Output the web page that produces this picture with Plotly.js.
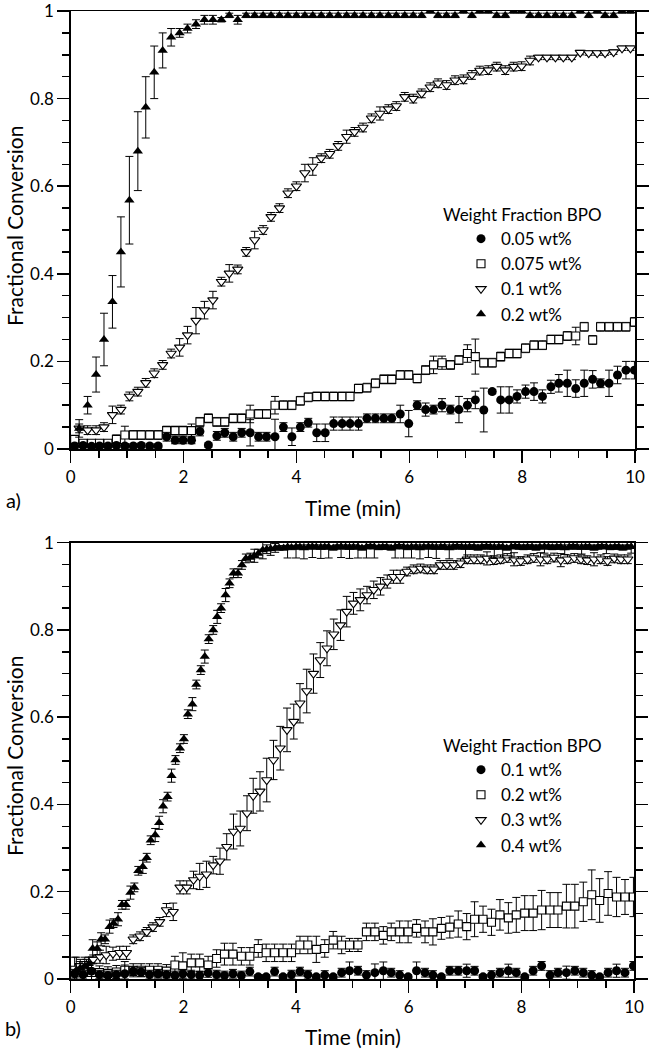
<!DOCTYPE html>
<html><head><meta charset="utf-8">
<script src="https://cdn.plot.ly/plotly-3.0.1.min.js"></script>
<style>html,body{margin:0;padding:0;background:#fff}</style>
</head><body><div id="chart" style="width:653px;height:1050px"></div>
<script>
// ---------- Panel a ----------
const timeA1 = [0.07,0.22,0.37,0.51,0.66,0.81,0.96,1.11,1.25,1.40,
1.55,1.70,1.85,1.99,2.14,2.29,2.44,2.59,2.73,2.88,
3.03,3.18,3.33,3.47,3.62,3.77,3.92,4.07,4.21,4.36,
4.51,4.66,4.81,4.95,5.10,5.25,5.40,5.55,5.69,5.84,
5.99,6.14,6.29,6.43,6.58,6.73,6.88,7.03,7.17,7.32,
7.47,7.62,7.77,7.91,8.06,8.21,8.36,8.51,8.65,8.80,
8.95,9.10,9.25,9.39,9.54,9.69,9.84,9.99];
const timeA2 = [0.15,0.30,0.45,0.59,0.74,0.89,1.04,1.19,1.33,1.48,
1.63,1.78,1.93,2.07,2.22,2.37,2.52,2.67,2.81,2.96,
3.11,3.26,3.41,3.55,3.70,3.85,4.00,4.15,4.29,4.44,
4.59,4.74,4.89,5.03,5.18,5.33,5.48,5.63,5.77,5.92,
6.07,6.22,6.37,6.51,6.66,6.81,6.96,7.11,7.25,7.40,
7.55,7.70,7.85,7.99,8.14,8.29,8.44,8.59,8.73,8.88,
9.03,9.18,9.33,9.47,9.62,9.77,9.92];

const convA_005 = [0.007,0.008,0.006,0.007,0.007,0.008,0.007,0.007,0.008,0.007,
0.007,0.028,0.02,0.02,0.02,0.04,0.009,0.03,0.037,0.028,
0.037,0.037,0.028,0.028,0.028,0.05,0.028,0.05,0.06,0.037,
0.037,0.058,0.058,0.058,0.058,0.07,0.07,0.07,0.07,0.08,
0.058,0.10,0.09,0.09,0.10,0.09,0.09,0.10,0.112,0.089,
0.131,0.112,0.112,0.12,0.131,0.131,0.12,0.142,0.15,0.15,
0.138,0.15,0.159,0.15,0.15,0.169,0.18,0.18];
const errA_005 = [0.005,0.005,0.005,0.005,0.005,0.005,0.005,0.005,0.005,0.005,
0.005,0.01,0.008,0.008,0.008,0.01,0.005,0.01,0.01,0.01,
0.01,0.03,0.01,0.01,0.04,0.01,0.02,0.01,0.01,0.02,
0.02,0.015,0.015,0.015,0.015,0.01,0.01,0.01,0.01,0.02,
0.03,0.01,0.015,0.01,0.015,0.01,0.03,0.015,0.02,0.05,
0.005,0.03,0.03,0.015,0.015,0.02,0.015,0.015,0.02,0.03,
0.02,0.03,0.02,0.01,0.03,0.02,0.02,0.02];

const convA_0075 = [0.022,0.013,0.013,0.013,0.013,0.022,0.032,0.032,0.032,0.032,
0.032,0.042,0.042,0.042,0.042,0.062,0.07,0.062,0.062,0.07,
0.07,0.08,0.08,0.08,0.10,0.10,0.10,0.11,0.118,0.12,
0.12,0.12,0.12,0.12,0.138,0.14,0.15,0.159,0.159,0.169,
0.169,0.161,0.18,0.192,0.197,0.192,0.203,0.218,0.211,0.197,
0.197,0.211,0.218,0.218,0.23,0.237,0.237,0.25,0.25,0.258,
0.258,0.279,0.249,0.279,0.279,0.279,0.279,0.29];
const errA_0075 = [0.005,0.005,0.005,0.005,0.005,0.01,0.02,0.01,0.01,0.01,
0.01,0.01,0.01,0.01,0.015,0.01,0.01,0.01,0.01,0.01,
0.01,0.02,0.01,0.01,0.02,0.01,0.01,0.01,0.01,0.01,
0.01,0.01,0.01,0.01,0.01,0.01,0.01,0.01,0.01,0.01,
0.01,0.01,0.01,0.02,0.015,0.01,0.01,0.02,0.04,0.01,
0.01,0.01,0.01,0.01,0.01,0.01,0.01,0.01,0.01,0.01,
0.02,0.01,0.01,0.01,0.01,0.01,0.01,0.01];

const convA_01 = [0.047,0.043,0.043,0.05,0.078,0.09,0.12,0.131,0.151,0.173,
0.192,0.218,0.232,0.26,0.293,0.317,0.34,0.382,0.401,0.41,
0.45,0.477,0.50,0.53,0.55,0.584,0.60,0.63,0.645,0.664,
0.674,0.692,0.713,0.724,0.734,0.755,0.766,0.776,0.783,0.804,
0.80,0.812,0.826,0.835,0.831,0.842,0.844,0.854,0.864,0.865,
0.873,0.865,0.873,0.874,0.887,0.894,0.894,0.894,0.894,0.894,
0.905,0.904,0.904,0.904,0.906,0.915,0.915];
const errA_01 = [0.01,0.01,0.01,0.01,0.02,0.01,0.01,0.01,0.01,0.01,
0.01,0.01,0.02,0.02,0.03,0.02,0.02,0.01,0.02,0.01,
0.01,0.02,0.01,0.01,0.01,0.01,0.01,0.02,0.02,0.01,
0.01,0.01,0.015,0.01,0.01,0.01,0.015,0.01,0.01,0.01,
0.01,0.01,0.01,0.01,0.01,0.01,0.01,0.01,0.01,0.01,
0.01,0.01,0.01,0.01,0.01,0.005,0.005,0.005,0.005,0.005,
0.005,0.005,0.005,0.005,0.005,0.005,0.005];

const convA_02 = [0.047,0.10,0.17,0.25,0.336,0.45,0.568,0.68,0.78,0.86,
0.91,0.94,0.95,0.96,0.97,0.98,0.98,0.98,0.99,0.98,
0.99,0.99,0.99,0.99,0.99,0.99,0.99,0.99,0.99,0.99,
0.99,0.99,0.99,0.99,0.99,0.99,0.99,0.99,0.99,0.99,
0.99,0.99,1.0,0.99,0.99,0.99,1.0,0.99,1.0,1.0,
0.99,0.99,1.0,1.0,0.99,0.99,0.99,0.99,0.99,0.99,
1.0,0.99,1.0,0.99,0.99,1.0,1.0];
const errA_02 = [0.02,0.02,0.04,0.06,0.06,0.08,0.10,0.09,0.07,0.06,
0.04,0.02,0.01,0.01,0.01,0.01,0.01,0.005,0.005,0.01,
0.005,0.005,0.005,0.005,0.005,0.005,0.005,0.005,0.005,0.005,
0.005,0.005,0.005,0.005,0.005,0.005,0.005,0.005,0.005,0.005,
0.005,0.005,0.005,0.005,0.005,0.005,0.005,0.005,0.005,0.005,
0.005,0.005,0.005,0.005,0.005,0.005,0.005,0.005,0.005,0.005,
0.005,0.005,0.005,0.005,0.005,0.005,0.005];

// ---------- Panel b ----------
const timeB1 = [0.07,0.22,0.37,0.51,0.66,0.81,0.96,1.11,1.25,1.40,
1.55,1.70,1.85,1.99,2.14,2.29,2.44,2.59,2.73,2.88,
3.03,3.18,3.33,3.47,3.62,3.77,3.92,4.07,4.21,4.36,
4.51,4.66,4.81,4.95,5.10,5.25,5.40,5.55,5.69,5.84,
5.99,6.14,6.29,6.43,6.58,6.73,6.88,7.03,7.17,7.32,
7.47,7.62,7.77,7.91,8.06,8.21,8.36,8.51,8.65,8.80,
8.95,9.10,9.25,9.39,9.54,9.69,9.84,9.99];
const timeB3 = [0.16,0.28,0.40,0.52,0.63,0.75,0.87,0.99,1.11,1.23,
1.35,1.46,1.58,1.70,1.82,1.94,2.06,2.18,2.29,2.41,
2.53,2.65,2.77,2.89,3.01,3.13,3.24,3.36,3.48,3.60,
3.72,3.84,3.96,4.07,4.19,4.31,4.43,4.55,4.67,4.79,
4.90,5.02,5.14,5.26,5.38,5.50,5.62,5.73,5.85,5.97,
6.09,6.21,6.33,6.45,6.56,6.68,6.80,6.92,7.04,7.16,
7.28,7.39,7.51,7.63,7.75,7.87,7.99,8.11,8.22,8.34,
8.46,8.58,8.70,8.82,8.94,9.06,9.17,9.29,9.41,9.53,
9.65,9.77,9.89];
const timeB4 = [0.10,0.17,0.25,0.32,0.39,0.47,0.54,0.61,0.69,0.76,
0.84,0.91,0.98,1.06,1.13,1.20,1.28,1.35,1.42,1.50,
1.57,1.64,1.72,1.79,1.86,1.94,2.01,2.08,2.16,2.23,
2.31,2.38,2.45,2.53,2.60,2.67,2.75,2.82,2.89,2.97,
3.04,3.11,3.19,3.26,3.33,3.41,3.48,3.55,3.63,3.70,
3.78,3.85,3.92,4.00,4.07,4.14,4.22,4.29,4.36,4.44,
4.51,4.58,4.66,4.73,4.80,4.88,4.95,5.02,5.10,5.17,
5.25,5.32,5.39,5.47,5.54,5.61,5.69,5.76,5.83,5.91,
5.98,6.05,6.13,6.20,6.27,6.35,6.42,6.49,6.57,6.64,
6.72,6.79,6.86,6.94,7.01,7.08,7.16,7.23,7.30,7.38,
7.45,7.52,7.60,7.67,7.74,7.82,7.89,7.96,8.04,8.11,
8.19,8.26,8.33,8.41,8.48,8.55,8.63,8.70,8.77,8.85,
8.92,8.99,9.07,9.14,9.21,9.29,9.36,9.43,9.51,9.58,
9.66,9.73,9.80,9.88,9.95];

const convB_01 = [0.012,0.01,0.018,0.01,0.008,0.01,0.012,0.018,0.016,0.01,
0.012,0.01,0.008,0.012,0.01,0.008,0.014,0.01,0.008,0.012,
0.008,0.017,0.005,0.005,0.017,0.005,0.01,0.017,0.01,0.005,
0.009,0.005,0.0145,0.019,0.019,0.009,0.0145,0.019,0.0145,0.009,
0.005,0.019,0.0145,0.009,0.005,0.019,0.019,0.019,0.019,0.005,
0.009,0.0145,0.019,0.0145,0.005,0.019,0.03,0.009,0.0145,0.0145,
0.019,0.0145,0.009,0.005,0.0145,0.019,0.0145,0.03];
const errB_01 = [0.01,0.015,0.02,0.01,0.01,0.01,0.02,0.01,0.01,0.01,
0.01,0.01,0.01,0.01,0.01,0.01,0.01,0.01,0.01,0.01,
0.01,0.01,0.005,0.005,0.01,0.005,0.01,0.01,0.01,0.005,
0.01,0.005,0.01,0.02,0.01,0.01,0.02,0.02,0.01,0.01,
0.005,0.02,0.01,0.01,0.005,0.01,0.01,0.015,0.01,0.005,
0.01,0.01,0.015,0.01,0.005,0.01,0.01,0.01,0.01,0.015,
0.01,0.01,0.01,0.005,0.01,0.015,0.01,0.01];

const convB_02 = [0.02,0.02,0.015,0.015,0.013,0.016,0.02,0.02,0.02,0.02,
0.02,0.018,0.032,0.03,0.037,0.037,0.032,0.047,0.057,0.057,
0.052,0.052,0.07,0.06,0.06,0.06,0.06,0.078,0.078,0.068,
0.07,0.089,0.078,0.078,0.078,0.108,0.108,0.10,0.108,0.108,
0.108,0.116,0.108,0.108,0.116,0.119,0.126,0.12,0.137,0.137,
0.13,0.147,0.14,0.147,0.151,0.151,0.158,0.158,0.158,0.167,
0.167,0.177,0.193,0.18,0.196,0.188,0.188,0.188];
const errB_02 = [0.03,0.02,0.02,0.015,0.015,0.015,0.02,0.015,0.015,0.015,
0.015,0.015,0.02,0.03,0.02,0.02,0.02,0.02,0.025,0.025,
0.02,0.02,0.02,0.02,0.02,0.02,0.02,0.02,0.02,0.03,
0.02,0.02,0.02,0.015,0.015,0.02,0.02,0.02,0.02,0.025,
0.025,0.02,0.025,0.03,0.025,0.025,0.03,0.03,0.04,0.03,
0.03,0.035,0.035,0.04,0.04,0.04,0.045,0.04,0.04,0.05,
0.05,0.045,0.057,0.05,0.05,0.045,0.04,0.045];

const convB_03 = [0.03,0.035,0.045,0.051,0.055,0.058,0.06,0.06,0.091,0.098,
0.108,0.119,0.131,0.158,0.154,0.21,0.21,0.227,0.235,0.24,
0.261,0.27,0.303,0.338,0.345,0.38,0.42,0.43,0.456,0.502,
0.529,0.571,0.59,0.632,0.66,0.70,0.731,0.758,0.79,0.811,
0.842,0.861,0.869,0.88,0.892,0.90,0.911,0.922,0.922,0.934,
0.939,0.941,0.939,0.939,0.949,0.949,0.949,0.953,0.962,0.962,
0.962,0.964,0.96,0.962,0.965,0.962,0.958,0.962,0.965,0.962,
0.962,0.966,0.96,0.962,0.965,0.962,0.96,0.962,0.962,0.958,
0.964,0.962,0.962];
const errB_03 = [0.01,0.01,0.01,0.015,0.02,0.015,0.015,0.015,0.01,0.01,
0.01,0.01,0.01,0.015,0.02,0.015,0.015,0.02,0.03,0.03,
0.02,0.03,0.03,0.04,0.04,0.04,0.04,0.045,0.05,0.045,
0.05,0.05,0.04,0.045,0.05,0.045,0.04,0.04,0.035,0.035,
0.035,0.025,0.025,0.02,0.02,0.02,0.015,0.015,0.015,0.01,
0.01,0.01,0.01,0.01,0.01,0.01,0.01,0.01,0.01,0.01,
0.01,0.015,0.01,0.01,0.01,0.015,0.01,0.01,0.01,0.015,
0.01,0.01,0.015,0.01,0.01,0.01,0.01,0.015,0.01,0.01,
0.01,0.01,0.01];

const convB_04 = [0.02,0.025,0.03,0.035,0.07,0.07,0.091,0.091,0.12,0.128,
0.137,0.17,0.17,0.198,0.21,0.248,0.257,0.278,0.318,0.33,
0.358,0.396,0.418,0.466,0.502,0.529,0.55,0.607,0.63,0.675,
0.708,0.739,0.779,0.80,0.83,0.85,0.88,0.907,0.93,0.93,
0.949,0.964,0.966,0.97,0.975,0.983,0.985,0.986,0.988,0.988,
0.988,0.990,0.989,0.990,0.990,0.988,0.990,0.991,0.990,0.989,
0.990,0.990,0.988,0.990,0.991,0.990,0.989,0.990,0.990,0.988,
0.990,0.991,0.990,0.989,0.990,0.990,0.988,0.990,0.991,0.990,
0.989,0.990,0.990,0.988,0.990,0.991,0.990,0.989,0.990,0.990,
0.988,0.990,0.991,0.990,0.989,0.990,0.990,0.988,0.990,0.991,
0.990,0.989,0.990,0.990,0.988,0.990,0.991,0.990,0.989,0.990,
0.990,0.988,0.990,0.991,0.990,0.989,0.990,0.990,0.988,0.990,
0.991,0.990,0.989,0.990,0.990,0.988,0.990,0.991,0.990,0.989,
0.990,0.990,0.988,0.990,0.991];
const errB_04 = [0.03,0.02,0.02,0.015,0.02,0.015,0.015,0.01,0.015,0.01,
0.015,0.01,0.01,0.015,0.01,0.01,0.015,0.01,0.01,0.015,
0.015,0.015,0.01,0.015,0.01,0.01,0.01,0.01,0.015,0.01,
0.01,0.015,0.01,0.01,0.015,0.01,0.015,0.01,0.01,0.01,
0.01,0.01,0.01,0.015,0.01,0.02,0.01,0.015,0.01,0.005,
0.005,0.025,0.005,0.025,0.005,0.025,0.005,0.025,0.005,0.025,
0.005,0.025,0.005,0.005,0.025,0.005,0.025,0.005,0.025,0.005,
0.025,0.005,0.025,0.005,0.005,0.005,0.005,0.025,0.005,0.025,
0.005,0.025,0.005,0.025,0.005,0.025,0.005,0.025,0.005,0.005,
0.025,0.005,0.005,0.005,0.025,0.005,0.005,0.005,0.005,0.005,
0.005,0.025,0.005,0.025,0.005,0.025,0.005,0.005,0.005,0.005,
0.005,0.005,0.005,0.015,0.005,0.005,0.005,0.005,0.015,0.005,
0.005,0.005,0.015,0.005,0.005,0.005,0.005,0.005,0.015,0.005,
0.005,0.005,0.005,0.005,0.015];

const legendA = ['0.05 wt%','0.075 wt%','0.1 wt%','0.2 wt%'];
const legendB = ['0.1 wt%','0.2 wt%','0.3 wt%','0.4 wt%'];
const legendTitle = 'Weight Fraction BPO';
const yTickVals = [0, 0.2, 0.4, 0.6, 0.8, 1];
const yTickText = ['0', '0.2', '0.4', '0.6', '0.8', '1'];
const xTickVals = [0, 2, 4, 6, 8, 10];
const xTickText = ['0', '2', '4', '6', '8', '10'];

// ---------- Styling ----------
const FONT = 'Lato, "Open Sans", "DejaVu Sans", sans-serif';
const BLACK = '#000';
function errStyle(arr){ return {type:'data', array:arr, visible:true, color:BLACK, thickness:1, width:4}; }
const openSq = {symbol:'square', size:8, color:'#fff', line:{color:BLACK, width:1.1}};
const openTri = {symbol:'triangle-down', size:9, color:'#fff', line:{color:BLACK, width:1.1}};
const fillCirc = {symbol:'circle', size:9, color:BLACK, line:{width:0}};
const fillTri = {symbol:'triangle-up', size:9, color:BLACK, line:{width:0}};

function tr(x, y, err, marker, name, rank, xa, ya, leg){
  return {type:'scatter', mode:'markers', x:x, y:y, error_y:errStyle(err),
          marker:marker, name:name, legendrank:rank, xaxis:xa, yaxis:ya, legend:leg};
}

const data = [
  tr(timeA1, convA_0075, errA_0075, openSq, legendA[1], 2, 'x', 'y', 'legend'),
  tr(timeA2, convA_01, errA_01, openTri, legendA[2], 3, 'x', 'y', 'legend'),
  tr(timeA1, convA_005, errA_005, fillCirc, legendA[0], 1, 'x', 'y', 'legend'),
  tr(timeA2, convA_02, errA_02, fillTri, legendA[3], 4, 'x', 'y', 'legend'),
  tr(timeB1, convB_02, errB_02, openSq, legendB[1], 2, 'x2', 'y2', 'legend2'),
  tr(timeB3, convB_03, errB_03, openTri, legendB[2], 3, 'x2', 'y2', 'legend2'),
  tr(timeB1, convB_01, errB_01, fillCirc, legendB[0], 1, 'x2', 'y2', 'legend2'),
  tr(timeB4, convB_04, errB_04, fillTri, legendB[3], 4, 'x2', 'y2', 'legend2')
];

const W = 653, H = 1050;
const px = v => v / W;
const py = v => 1 - v / H;

function xAx(anchor, dom){
  return {domain:dom, anchor:anchor, range:[0,10], tickmode:'array', tickvals:xTickVals, ticktext:xTickText,
    ticks:'outside', ticklen:12, tickwidth:1.5, tickcolor:BLACK,
    showline:true, linewidth:1.5, linecolor:BLACK, mirror:true,
    showgrid:false, zeroline:false, ticklabeloverflow:'allow',
    minor:{tickmode:'linear', tick0:0, dtick:0.5, ticks:'outside', ticklen:7, tickwidth:1.5, tickcolor:BLACK, showgrid:false},
    tickfont:{family:FONT, size:17, color:BLACK}};
}
function yAx(anchor, dom){
  return {domain:dom, anchor:anchor, range:[0,1], tickmode:'array', tickvals:yTickVals, ticktext:yTickText,
    ticks:'outside', ticklen:12, tickwidth:1.5, tickcolor:BLACK,
    showline:true, linewidth:1.5, linecolor:BLACK, mirror:'ticks',
    showgrid:false, zeroline:false, ticklabeloverflow:'allow',
    minor:{tickmode:'linear', tick0:0, dtick:0.05, ticks:'outside', ticklen:7, tickwidth:1.5, tickcolor:BLACK, showgrid:false},
    tickfont:{family:FONT, size:17, color:BLACK}};
}
function leg(yTop){
  return {x:px(441), y:py(yTop), xanchor:'left', yanchor:'top', bgcolor:'rgba(0,0,0,0)',
    borderwidth:0, indentation:20, tracegroupgap:0,
    font:{family:FONT, size:17, color:BLACK},
    title:{text:legendTitle, font:{family:FONT, size:17, color:BLACK}}};
}
function ann(text, x, y, size, angle){
  return {text:text, xref:'paper', yref:'paper', x:px(x), y:py(y), xanchor:'center', yanchor:'middle',
    showarrow:false, textangle:angle||0, font:{family:FONT, size:size, color:BLACK}};
}

const layout = {
  width:W, height:H, margin:{l:0, r:0, t:0, b:0},
  paper_bgcolor:'#fff', plot_bgcolor:'#fff', showlegend:true,
  xaxis: xAx('y', [px(70.7), px(635)]),
  yaxis: yAx('x', [py(449), py(11)]),
  xaxis2: xAx('y2', [px(70.7), px(634)]),
  yaxis2: yAx('x2', [py(979), py(542.7)]),
  legend: leg(199),
  legend2: leg(730),
  annotations:[
    ann('Fractional Conversion', 14, 226, 21, -90),
    ann('Time (min)', 353, 507, 21),
    ann('a)', 13, 500, 20),
    ann('Fractional Conversion', 14, 756, 21, -90),
    ann('Time (min)', 353, 1036, 21),
    ann('b)', 13, 1028, 20)
  ]
};

Plotly.newPlot('chart', data, layout, {staticPlot:true, displayModeBar:false});
</script>
</body></html>
